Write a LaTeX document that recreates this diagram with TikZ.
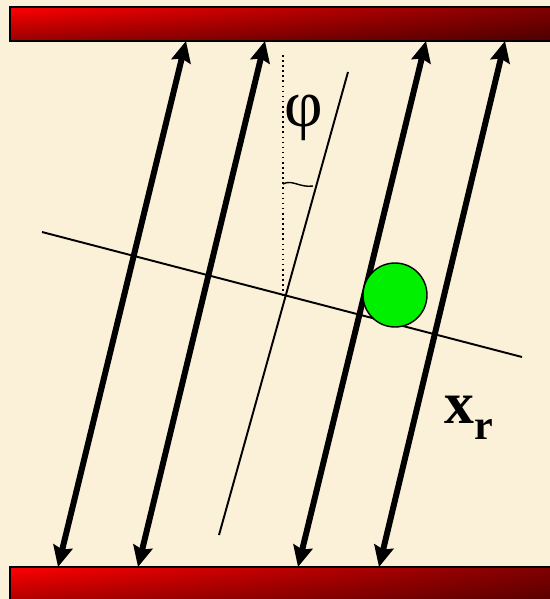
\documentclass[tikz,border=0pt]{standalone}
\usepackage{fontspec}
\setmainfont{Liberation Serif}
\usepackage{xcolor}
\usepackage{tikz}
\usetikzlibrary{arrows.meta, fadings, positioning}

\definecolor{paper}{RGB}{251,241,217}
\definecolor{barred}{RGB}{255,0,0}
\definecolor{bardark}{RGB}{125,0,0}
\definecolor{ballgreen}{RGB}{0,240,0}
\tikzfading[name=barfade, top color=transparent!100, bottom color=transparent!0]

\begin{document}
\begin{tikzpicture}[x=0.02cm, y=-0.02cm,
    >={Stealth[length=4.2mm, width=3.9mm, inset=0.6mm]},
    axis/.style={line width=1.1pt},
    ball/.style={circle, draw, line width=0.8pt, fill=ballgreen, minimum size=1.28cm, inner sep=0pt}]
    % Nền
    \useasboundingbox (0,0) rectangle (550,599);
    \fill[paper] (0,0) rectangle (550,599);
    
    % Hai tấm trên và dưới
    \foreach \ya/\yb in {7/41, 567/610} {
        \shade[left color=barred, right color=bardark] (10,\ya) rectangle (570,\yb);
        \fill[black, opacity=0.4, path fading=barfade] (10,\ya) rectangle (570,\yb);
        \draw[line width=0.8pt] (10,\ya) rectangle (570,\yb);
    }
    
    % Các mũi tên hai chiều
    \foreach \i/\xt/\xb in {1/186/58, 2/265/138, 3/426/298, 4/505/379} {
        \coordinate (t\i) at (\xt,41);
        \coordinate (b\i) at (\xb,567);
        \draw[<->, line width=3.4pt] (t\i) -- (b\i);
    }
    
    % Hệ trục quay
    \coordinate (O) at (285,296);
    \coordinate (u1) at (42,232);
    \coordinate (u2) at (522,357);
    \coordinate (r1) at (348,72);
    \coordinate (r2) at (219,535);
    \coordinate (v) at (283,55);
    \draw[axis] (u1) -- (u2);
    \draw[axis] (r1) -- (r2);
    \draw[line width=0.9pt, dotted] (v) -- (283,296);
    
    % Góc phi
    \draw[line width=0.8pt] (283,184) .. controls (292,179) and (300,188) .. (313,186);
    \node (phi) at (304,118) {\fontsize{38}{40}\selectfont φ};
    
    % Quả cầu và nhãn
    \node[ball] (ball) at (395,295) {};
    \node[anchor=base west, inner sep=0pt] (xr) at (444,423)
        {\fontsize{34}{36}\selectfont\bfseries x\raisebox{-0.28em}{\fontsize{24}{26}\selectfont r}};
\end{tikzpicture}
\end{document}
